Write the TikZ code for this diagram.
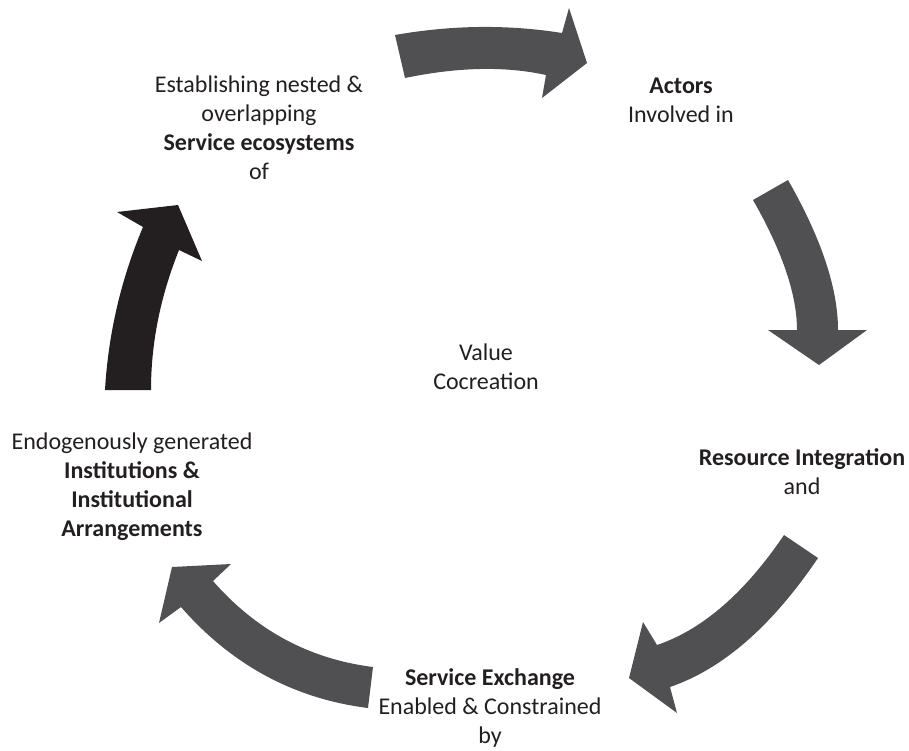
\documentclass[tikz,border=0pt]{standalone}
\usepackage{fontspec}
\setmainfont{Carlito}
\definecolor{arrowgray}{RGB}{80,80,82}
\definecolor{arrowblack}{RGB}{35,31,32}
\definecolor{txt}{RGB}{35,31,32}
\begin{document}
\begin{tikzpicture}[x=1pt,y=-1pt,
  grayarrow/.style={fill=arrowgray, draw=none},
  blackarrow/.style={fill=arrowblack, draw=none},
  txtnode/.style={align=center, inner sep=0pt, text=txt, font=\fontsize{24}{29}\selectfont, anchor=base}]
\useasboundingbox (0,0) rectangle (909,750);
% arrows
\fill[grayarrow] (395,35) .. controls (451.7,25) and (507.3,24.3) .. (562,33) -- (569,8) -- (587,63) -- (542,98) -- (546,75) .. controls (505,66) and (458,67) .. (405,78) -- cycle;
\fill[grayarrow] (788,180) .. controls (821.3,238.3) and (838,288.3) .. (838,330) -- (867,330) -- (819,365) -- (768,330) -- (797,330) .. controls (797,294.7) and (782.3,251.3) .. (753,200) -- cycle;
\fill[grayarrow] (818,558) .. controls (772,626) and (722.7,669) .. (670,687) -- (677,713) -- (629,678) -- (643,622) -- (657,645) .. controls (702.3,629.7) and (744.7,593) .. (784,535) -- cycle;
\fill[grayarrow] (373,667) .. controls (309.3,659) and (256,630.3) .. (213,581) -- (231,564) -- (172,567) -- (159,623) -- (181,607) .. controls (231.7,665) and (294,698.7) .. (368,708) -- cycle;
\fill[blackarrow] (105,390) .. controls (108.3,333.7) and (121,279.3) .. (143,227) -- (117,212) -- (178,205) -- (202,261) -- (179,250) .. controls (160.3,296.7) and (151,343.3) .. (151,390) -- cycle;
% texts (anchor base = baseline of last line)
\node[txtnode] (eco) at (259,179) {Establishing nested \&\\overlapping\\\textbf{Service ecosystems}\\of};
\node[txtnode] (actors) at (681,122) {\textbf{Actors}\\Involved in};
\node[txtnode] (resource) at (802,494) {\textbf{Resource Integration}\\and};
\node[txtnode] (exchange) at (490,743) {\textbf{Service Exchange}\\Enabled \& Constrained\\by};
\node[txtnode] (inst) at (132,536) {Endogenously generated\\\textbf{Institutions \&}\\\textbf{Institutional}\\\textbf{Arrangements}};
\node[txtnode] (value) at (486,389) {Value\\Cocreation};
\end{tikzpicture}
\end{document}
